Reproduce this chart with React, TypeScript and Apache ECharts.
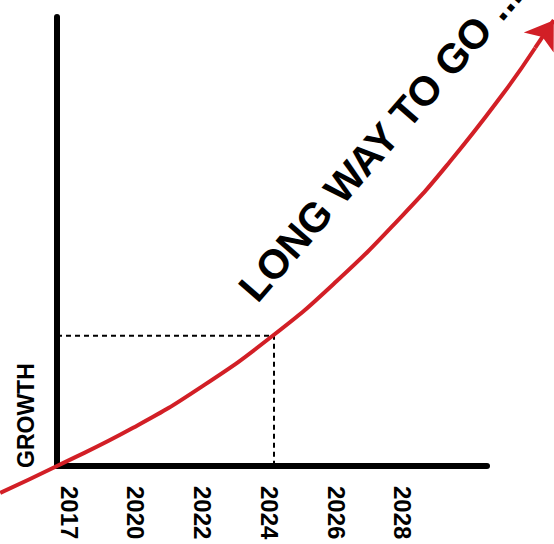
import React, { useEffect, useRef } from 'react';
import * as echarts from 'echarts';

// Tick labels (placed at index positions on the x axis)
const yearLabels = ['2017', '2020', '2022', '2024', '2026', '2028'];
const yearPositions = [0, 1, 2, 3, 4, 5];

// Growth curve (x in year-index units, y in growth units 0..100)
const curveX = [-1.03, -0.18, 0.96, 1.96, 3.05, 4.01, 5.0, 5.7, 6.5, 6.98];
const curveY = [-6.0, 0, 8.5, 17.4, 29.0, 41.2, 55.9, 67.7, 82.9, 93.1];
// Tip of the arrow head
const arrowTip = [7.26, 99.3];

// "Today" reference point (dashed guides)
const refX = 3.07;
const refY = 29.0;

// Axis extents
const xMin = -0.18;
const xMax = 6.26;
const yMin = 0;
const yMax = 100;

const titleText = 'LONG WAY TO GO ...';
const yName = 'GROWTH';

const FONT = '"Liberation Sans", Arial, Helvetica, sans-serif';
const RED = '#d21f26';

// Layout of the visible axes grid (pixels)
const G = { left: 57, right: 67, top: 17, bottom: 78 };
const W = 554;
const H = 544;

export default function App() {
  const ref = useRef<HTMLDivElement>(null);

  useEffect(() => {
    if (!ref.current) return;
    const chart = echarts.init(ref.current, undefined, { renderer: 'svg' });
    const curve = curveX.map((x, i) => [x, curveY[i]]);
    const n = curve.length;

    // A second full-canvas grid using the same scale, so the curve may run past the axes
    const kx = (W - G.left - G.right) / (xMax - xMin);
    const ky = (H - G.top - G.bottom) / (yMax - yMin);
    const fxMin = xMin - G.left / kx;
    const fxMax = xMax + G.right / kx;
    const fyMin = yMin - G.bottom / ky;
    const fyMax = yMax + G.top / ky;

    const hidden = {
      axisLine: { show: false },
      axisTick: { show: false },
      splitLine: { show: false },
      axisLabel: { show: false },
    };

    const option: any = {
      animation: false,
      backgroundColor: '#ffffff',
      grid: [
        { ...G, containLabel: false, outerBoundsMode: 'none' },
        { left: 0, right: 0, top: 0, bottom: 0, containLabel: false, outerBoundsMode: 'none' },
      ],
      xAxis: [
        {
          type: 'value',
          gridIndex: 0,
          min: xMin,
          max: xMax,
          axisLine: { show: true, onZero: false, lineStyle: { color: '#000', width: 6 } },
          axisTick: { show: false },
          splitLine: { show: false },
          axisLabel: {
            show: true,
            customValues: yearPositions,
            formatter: (v: number) => yearLabels[Math.round(v)] ?? '',
            rotate: -90,
            margin: 20,
            fontSize: 24,
            fontWeight: 'bold',
            fontFamily: FONT,
            color: '#000',
          },
        },
        { type: 'value', gridIndex: 1, min: fxMin, max: fxMax, ...hidden },
      ],
      yAxis: [
        {
          type: 'value',
          gridIndex: 0,
          min: yMin,
          max: yMax,
          axisLine: { show: true, onZero: false, lineStyle: { color: '#000', width: 6 } },
          axisTick: { show: false },
          splitLine: { show: false },
          axisLabel: { show: false },
        },
        { type: 'value', gridIndex: 1, min: fyMin, max: fyMax, ...hidden },
      ],
      series: [
        {
          type: 'line',
          name: 'reference',
          xAxisIndex: 0,
          yAxisIndex: 0,
          data: [
            [xMin, refY],
            [refX, refY],
            [refX, yMin],
          ],
          symbol: 'none',
          lineStyle: { color: '#000', width: 2, type: [5, 4] },
          z: 1,
          silent: true,
        },
        {
          type: 'line',
          name: 'growth',
          xAxisIndex: 1,
          yAxisIndex: 1,
          data: curve,
          smooth: true,
          symbol: 'none',
          clip: false,
          lineStyle: { color: RED, width: 4 },
          z: 3,
        },
        {
          type: 'lines',
          coordinateSystem: 'cartesian2d',
          xAxisIndex: 1,
          yAxisIndex: 1,
          clip: false,
          symbol: ['none', 'arrow'],
          symbolSize: [15, 27],
          lineStyle: { color: RED, width: 4, opacity: 1 },
          data: [{ coords: [curve[n - 1], arrowTip] }],
          z: 4,
        },
      ],
      graphic: [
        {
          type: 'text',
          x: 26,
          y: 468,
          rotation: Math.PI / 2,
          style: {
            text: yName,
            fontSize: 23,
            fontWeight: 'bold',
            fontFamily: FONT,
            fill: '#000',
            align: 'left',
            verticalAlign: 'middle',
          },
        },
        {
          type: 'text',
          x: 247,
          y: 295,
          rotation: (49 * Math.PI) / 180,
          style: {
            text: titleText,
            fontSize: 41,
            fontWeight: 'bold',
            fontFamily: FONT,
            fill: '#000',
            align: 'left',
            verticalAlign: 'middle',
          },
        },
      ],
    };
    chart.setOption(option);
    return () => chart.dispose();
  }, []);

  return (
    <div
      ref={ref}
      style={{ position: 'fixed', left: 0, top: 0, width: W, height: H }}
    />
  );
}
